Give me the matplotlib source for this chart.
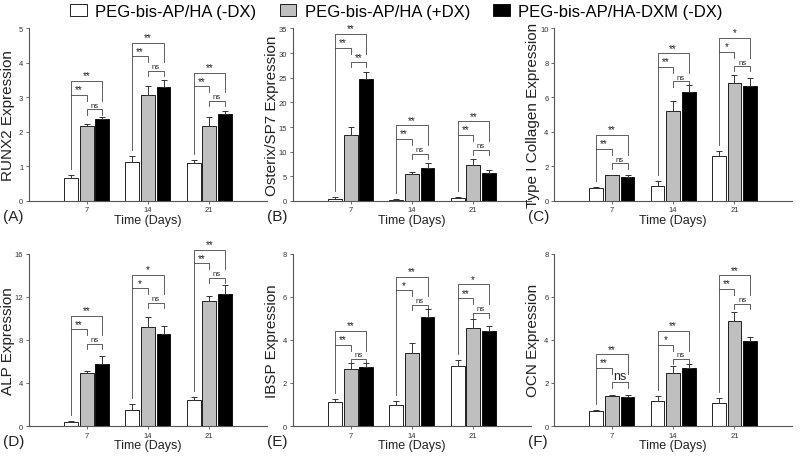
import numpy as np
import matplotlib
matplotlib.use('Agg')
import matplotlib.pyplot as plt

plt.rcParams['font.family'] = ['Liberation Sans', 'DejaVu Sans']

days = ['7', '14', '21']
series_names = ['PEG-bis-AP/HA (-DX)', 'PEG-bis-AP/HA (+DX)', 'PEG-bis-AP/HA-DXM (-DX)']
bar_colors = ['white', '#bfbfbf', 'black']

# rows: white / gray / black, columns: day 7, 14, 21
runx2_mean = [[0.66, 1.12, 1.11], [2.16, 3.08, 2.16], [2.38, 3.30, 2.53]]
runx2_err = [[0.10, 0.19, 0.08], [0.07, 0.25, 0.26], [0.04, 0.20, 0.09]]
runx2_top = [3.48, 4.59, 3.72]
runx2_sig = [['**', '**', 'ns'], ['**', '**', 'ns'], ['**', '**', 'ns']]

osx_mean = [[0.4, 0.2, 0.55], [13.46, 5.37, 7.34], [24.8, 6.66, 5.64]]
osx_err = [[0.3, 0.1, 0.25], [1.5, 0.55, 1.25], [1.4, 1.1, 0.65]]
osx_top = [33.9, 15.4, 16.2]
osx_sig = [['**', '**', '**'], ['**', '**', 'ns'], ['**', '**', 'ns']]

col_mean = [[0.74, 0.85, 2.58], [1.48, 5.24, 6.82], [1.38, 6.29, 6.64]]
col_err = [[0.06, 0.30, 0.29], [0.05, 0.53, 0.48], [0.12, 0.41, 0.46]]
col_top = [3.83, 8.58, 9.46]
col_sig = [['**', '**', 'ns'], ['**', '**', 'ns'], ['*', '*', 'ns']]

alp_mean = [[0.40, 1.52, 2.39], [4.91, 9.20, 11.59], [5.75, 8.54, 12.24]]
alp_err = [[0.10, 0.50, 0.31], [0.22, 0.90, 0.51], [0.71, 0.72, 0.81]]
alp_top = [10.25, 14.04, 16.37]
alp_sig = [['**', '**', 'ns'], ['*', '*', 'ns'], ['**', '**', 'ns']]

ibsp_mean = [[1.10, 0.96, 2.80], [2.63, 3.39, 4.53], [2.73, 5.07, 4.42]]
ibsp_err = [[0.13, 0.20, 0.24], [0.28, 0.45, 0.42], [0.21, 0.35, 0.22]]
ibsp_top = [4.42, 6.93, 6.58]
ibsp_sig = [['**', '**', 'ns'], ['**', '*', 'ns'], ['*', '**', 'ns']]

ocn_mean = [[0.68, 1.14, 1.06], [1.39, 2.45, 4.88], [1.34, 2.70, 3.93]]
ocn_err = [[0.04, 0.25, 0.25], [0.03, 0.35, 0.39], [0.12, 0.18, 0.21]]
ocn_top = [3.34, 4.42, 7.00]
ocn_sig = [['**', '**', 'NS'], ['**', '*', 'ns'], ['**', '**', 'ns']]

panels = [
    ('(A)', 'RUNX2 Expression', 5, 1, runx2_mean, runx2_err, runx2_top, runx2_sig),
    ('(B)', 'Osterix/SP7 Expression', 35, 5, osx_mean, osx_err, osx_top, osx_sig),
    ('(C)', 'Type I Collagen Expression', 10, 2, col_mean, col_err, col_top, col_sig),
    ('(D)', 'ALP Expression', 16, 4, alp_mean, alp_err, alp_top, alp_sig),
    ('(E)', 'IBSP Expression', 8, 2, ibsp_mean, ibsp_err, ibsp_top, ibsp_sig),
    ('(F)', 'OCN Expression', 8, 2, ocn_mean, ocn_err, ocn_top, ocn_sig),
]

fig = plt.figure(figsize=(8, 4.6), dpi=100)
lefts = [0.036, 0.366, 0.6925]
bottoms = [0.561, 0.0717]
line_c = '#444444'

x = np.arange(len(days))
off = 0.255
width = 0.225

for k, (tag, ylab, ymax, ystep, means, errs, tops, sigs) in enumerate(panels):
    row, col = divmod(k, 3)
    ax = fig.add_axes([lefts[col], bottoms[row], 0.2975, 0.375])
    handles = []
    for s in range(3):
        h = ax.bar(x + (s - 1) * off, means[s], width, color=bar_colors[s],
                   edgecolor='black', linewidth=0.6,
                   yerr=[np.zeros(3), errs[s]], capsize=2,
                   error_kw={'ecolor': '#333333', 'elinewidth': 0.7, 'capthick': 0.7})
        handles.append(h)
    ax.set_xlim(-0.946, 2.94)
    ax.set_ylim(0, ymax)
    ax.set_yticks(np.arange(0, ymax + 0.01, ystep))
    ax.set_xticks(x, days)
    ax.spines[['top', 'right']].set_visible(False)
    for sp in ['left', 'bottom']:
        ax.spines[sp].set_color('#555555')
        ax.spines[sp].set_linewidth(0.8)
    ax.tick_params(labelsize=5.5, length=2, width=0.6, colors='#555555',
                   labelcolor='#333333', pad=2)
    ax.set_ylabel(ylab, fontsize=11, color='#222222')
    ax.yaxis.set_label_coords(-0.06, 0.5)
    ax.set_xlabel('Time (Days)', fontsize=9, color='#222222')
    ax.xaxis.set_label_coords(0.5, -0.077)

    # significance brackets
    for i in range(3):
        xw, xg, xb = x[i] - off, x[i], x[i] + off
        H = tops[i]
        mid = H - 0.08 * ymax
        low = H - 0.165 * ymax
        base = means[0][i] + errs[0][i] + 0.035 * ymax
        kw = dict(color=line_c, linewidth=0.6, clip_on=False)
        ax.plot([xw, xw, xb, xb], [base, H, H, mid - 0.035 * ymax], **kw)
        ax.plot([xw, xg, xg], [mid, mid, mid - 0.035 * ymax], **kw)
        ax.plot([xg, xg, xb, xb], [low - 0.03 * ymax, low, low, low - 0.03 * ymax], **kw)
        t_kw = dict(ha='center', va='bottom', color='#222222', clip_on=False)
        ax.text((xw + xb) / 2, H + 0.002 * ymax, sigs[i][0], fontsize=7, **t_kw)
        ax.text((xw + xg) / 2, mid + 0.002 * ymax, sigs[i][1], fontsize=7, **t_kw)
        lab = sigs[i][2]
        if lab == 'NS':
            ax.text((xg + xb) / 2, low + 0.004 * ymax, 'ns', fontsize=9, **t_kw)
        else:
            ax.text((xg + xb) / 2, low + 0.004 * ymax, lab,
                    fontsize=7 if lab == '**' else 5.5, **t_kw)

    fig.text(lefts[col] - 0.032, bottoms[row] - 0.032, tag, fontsize=11,
             ha='left', va='center', color='#222222')

fig.legend(handles, series_names, loc='upper center', bbox_to_anchor=(0.4956, 1.022),
           ncol=3, frameon=False, fontsize=12, handlelength=1.0, handleheight=0.65,
           columnspacing=1.4, handletextpad=0.5)

fig.savefig('out.png', dpi=100)
